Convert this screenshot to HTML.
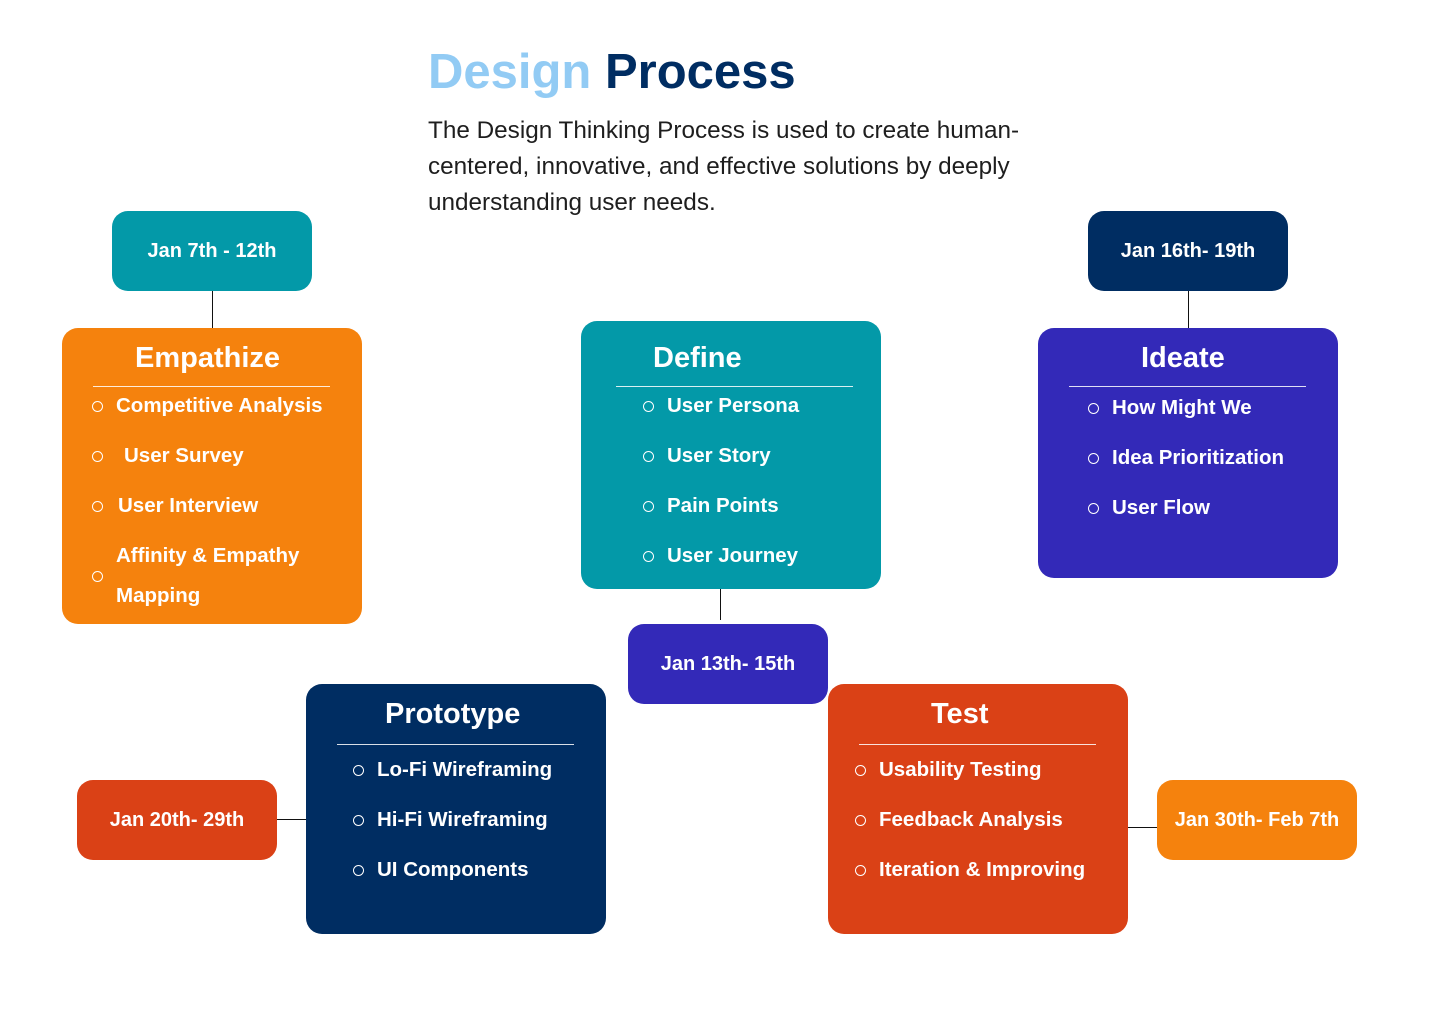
<!DOCTYPE html>
<html><head><meta charset="utf-8"><style>
*{margin:0;padding:0;box-sizing:border-box}
body{width:1440px;height:1024px;background:#fff;position:relative;overflow:hidden;font-family:"Liberation Sans",sans-serif}
.a{position:absolute}
.box{position:absolute;border-radius:16px}
.date{position:absolute;border-radius:16px;color:#fff;font-weight:bold;font-size:20px;display:flex;align-items:center;justify-content:center;width:200px;height:80px}
.t{position:absolute;color:#fff;font-weight:bold;font-size:29px;line-height:32px;white-space:nowrap}
.hr{position:absolute;height:1px;background:rgba(255,255,255,.85)}
.it{position:absolute;color:#fff;font-weight:bold;font-size:20.5px;line-height:24px;white-space:nowrap}
.c{position:absolute;width:11px;height:11px;border:1.6px solid #fff;border-radius:50%}
.ln{position:absolute;background:#111}
</style></head><body>
<div class="a" style="left:428px;top:42px;font-size:49px;font-weight:bold;line-height:60px;white-space:nowrap"><span style="color:#92CBF4">Design</span> <span style="color:#002D62">Process</span></div>
<div class="a" style="left:428px;top:113px;width:640px;font-size:24.3px;line-height:36px;color:#1e1e1e">The Design Thinking Process is used to create human-<br>centered, innovative, and effective solutions by deeply<br>understanding user needs.</div>

<div class="ln" style="left:212px;top:291px;width:1px;height:37px"></div>
<div class="ln" style="left:1188px;top:291px;width:1px;height:37px"></div>
<div class="ln" style="left:720px;top:583px;width:1px;height:37px"></div>
<div class="ln" style="left:270px;top:819px;width:40px;height:1px"></div>
<div class="ln" style="left:1110px;top:827px;width:47px;height:1px"></div>

<div class="date" style="left:112px;top:211px;background:#0399A8">Jan 7th - 12th</div>
<div class="date" style="left:1088px;top:211px;background:#002D62">Jan 16th- 19th</div>
<div class="date" style="left:628px;top:624px;background:#3329B8">Jan 13th- 15th</div>
<div class="date" style="left:77px;top:780px;background:#DA4116">Jan 20th- 29th</div>
<div class="date" style="left:1157px;top:780px;background:#F5820D">Jan 30th- Feb 7th</div>

<div class="box" style="left:62px;top:328px;width:300px;height:296px;background:#F5820D"></div>
<div class="t" style="left:135px;top:342px">Empathize</div>
<div class="hr" style="left:93px;top:386px;width:237px"></div>
<div class="c" style="left:92px;top:401px"></div><div class="it" style="left:116px;top:394px">Competitive Analysis</div>
<div class="c" style="left:92px;top:451px"></div><div class="it" style="left:124px;top:444px">User Survey</div>
<div class="c" style="left:92px;top:501px"></div><div class="it" style="left:118px;top:494px">User Interview</div>
<div class="c" style="left:92px;top:571px"></div><div class="it" style="left:116px;top:544px">Affinity &amp; Empathy</div>
<div class="it" style="left:116px;top:584px">Mapping</div>

<div class="box" style="left:581px;top:321px;width:300px;height:268px;background:#0399A8"></div>
<div class="t" style="left:653px;top:342px">Define</div>
<div class="hr" style="left:616px;top:386px;width:237px"></div>
<div class="c" style="left:643px;top:401px"></div><div class="it" style="left:667px;top:394px">User Persona</div>
<div class="c" style="left:643px;top:451px"></div><div class="it" style="left:667px;top:444px">User Story</div>
<div class="c" style="left:643px;top:501px"></div><div class="it" style="left:667px;top:494px">Pain Points</div>
<div class="c" style="left:643px;top:551px"></div><div class="it" style="left:667px;top:544px">User Journey</div>

<div class="box" style="left:1038px;top:328px;width:300px;height:250px;background:#3329B8"></div>
<div class="t" style="left:1141px;top:342px">Ideate</div>
<div class="hr" style="left:1069px;top:386px;width:237px"></div>
<div class="c" style="left:1088px;top:403px"></div><div class="it" style="left:1112px;top:396px">How Might We</div>
<div class="c" style="left:1088px;top:453px"></div><div class="it" style="left:1112px;top:446px">Idea Prioritization</div>
<div class="c" style="left:1088px;top:503px"></div><div class="it" style="left:1112px;top:496px">User Flow</div>

<div class="box" style="left:306px;top:684px;width:300px;height:250px;background:#002D62"></div>
<div class="t" style="left:385px;top:698px">Prototype</div>
<div class="hr" style="left:337px;top:744px;width:237px"></div>
<div class="c" style="left:353px;top:765px"></div><div class="it" style="left:377px;top:758px">Lo-Fi Wireframing</div>
<div class="c" style="left:353px;top:815px"></div><div class="it" style="left:377px;top:808px">Hi-Fi Wireframing</div>
<div class="c" style="left:353px;top:865px"></div><div class="it" style="left:377px;top:858px">UI Components</div>

<div class="box" style="left:828px;top:684px;width:300px;height:250px;background:#DA4116"></div>
<div class="t" style="left:931px;top:698px">Test</div>
<div class="hr" style="left:859px;top:744px;width:237px"></div>
<div class="c" style="left:855px;top:765px"></div><div class="it" style="left:879px;top:758px">Usability Testing</div>
<div class="c" style="left:855px;top:815px"></div><div class="it" style="left:879px;top:808px">Feedback Analysis</div>
<div class="c" style="left:855px;top:865px"></div><div class="it" style="left:879px;top:858px">Iteration &amp; Improving</div>
</body></html>
